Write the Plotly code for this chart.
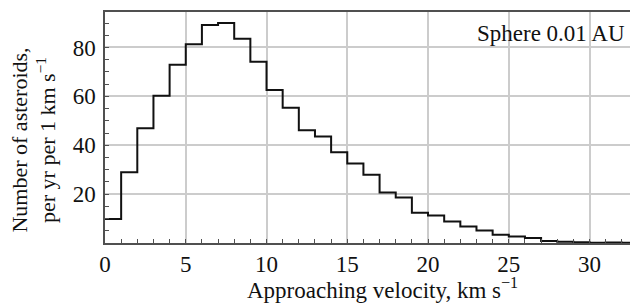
import plotly.graph_objects as go

# Data: histogram of approaching velocities (bins of 1 km/s starting at 0)
bin_edges = list(range(0, 34))
counts = [9.8, 28.9, 46.9, 60.2, 72.9, 81.3, 89.2, 90.0, 83.6, 74.1, 62.6,
          55.3, 46.1, 43.6, 37.1, 32.5, 27.9, 20.7, 18.6, 12.4, 11.3, 8.8,
          6.8, 5.1, 3.4, 2.7, 2.0, 0.8, 0.5, 0.3, 0.1, 0.2, 0.1]
x_ticks = [0, 5, 10, 15, 20, 25, 30]
y_ticks = [20, 40, 60, 80]
label_text = "Sphere 0.01 AU"

FONT = "Liberation Serif, Times New Roman, serif"

fig = go.Figure()
fig.add_trace(go.Scatter(
    x=bin_edges,
    y=counts + [counts[-1]],
    mode="lines",
    line=dict(shape="hv", color="#111111", width=2),
    showlegend=False,
    hoverinfo="skip",
))

fig.update_layout(
    width=630, height=295,
    margin=dict(l=97, r=0, t=4, b=60, autoexpand=False),
    paper_bgcolor="white", plot_bgcolor="white",
    font=dict(family=FONT, size=23, color="#111111"),
    xaxis=dict(
        range=[0, 33], tickvals=x_ticks, ticktext=[str(v) for v in x_ticks],
        showgrid=True, gridcolor="#cccccc", gridwidth=1.5,
        showline=True, linecolor="#505050", linewidth=1.5, mirror=True,
        ticks="inside", ticklen=4, tickcolor="#505050",
        minor=dict(dtick=1, ticks="inside", ticklen=4, tickcolor="#505050", showgrid=False),
        zeroline=False, tickfont=dict(family=FONT, size=23, color="#111111"),
        automargin=False,
    ),
    yaxis=dict(
        range=[0, 94.5], tickvals=y_ticks, ticktext=[str(v) for v in y_ticks],
        showgrid=True, gridcolor="#cccccc", gridwidth=1.5,
        showline=True, linecolor="#505050", linewidth=1.5,
        ticks="inside", ticklen=4, tickcolor="#505050",
        minor=dict(dtick=5, ticks="inside", ticklen=4, tickcolor="#505050", showgrid=False),
        zeroline=False, tickfont=dict(family=FONT, size=23, color="#111111"),
        ticklabelstandoff=3, automargin=False,
    ),
    annotations=[
        dict(text=label_text, xref="paper", yref="paper", x=0.979, y=0.905,
             xanchor="right", yanchor="middle", showarrow=False,
             font=dict(family=FONT, size=23, color="#111111")),
        dict(text="Approaching velocity, km s<sup>\u22121</sup>", xref="paper", yref="paper",
             x=0.5206, y=-0.196, xanchor="center", yanchor="middle", showarrow=False,
             font=dict(family=FONT, size=23, color="#111111")),
        dict(text="Number of asteroids,<br>per yr per 1 km s<sup>\u22121</sup>", xref="paper", yref="paper",
             x=-0.133, y=0.444, xanchor="center", yanchor="middle", showarrow=False,
             textangle=-90, align="center",
             font=dict(family=FONT, size=22, color="#111111")),
    ],
)

fig.write_html("out.html")
